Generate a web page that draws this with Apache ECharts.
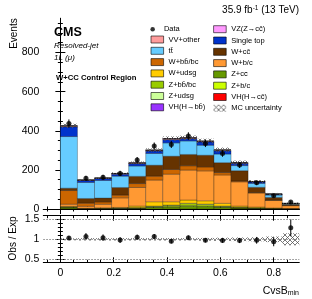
<!DOCTYPE html>
<html><head><meta charset="utf-8">
<script src="https://cdn.jsdelivr.net/npm/echarts@6/dist/echarts.min.js"></script>
<style>html,body{margin:0;padding:0;background:#fff}#c{width:312px;height:299px}</style>
</head><body><div id="c"></div>
<script>
// ---- data ----
const binEdges = [0,0.064,0.128,0.192,0.256,0.32,0.384,0.448,0.512,0.576,0.64,0.704,0.768,0.832,0.896];
const zcc   = [5,1,2,2,4,8,10,14,12,8,5,3,2,1];
const zbb   = [4,1,1,1,1,2,3,4,4,2,1,1,0.5,0.2];
const zbc   = [1,0.5,0.5,1,1,3,5,8,6,3,2,1,0.5,0.5];
const zudsg = [0.5,0.3,0.5,1,1,2,2,3,3,2,1,1,0.3,0.3];
const wudsg = [3,1,2,3,8,22,17,17,17,14,6,4,2,1];
const wbc   = [11,10,18,49,95,111,141,153,153,145,124,72,39,14];
const wbb   = [70,16,12,14,20,20,24,22,20,12,4,2,1,1];
const wcc   = [12,24,20,39,37,56,68,58,60,51,53,27,14,6];
const ttbar = [264,82,90,58,53,60,68,69,51,44,26,20,12,3];
const stop  = [50,10,10,10,12,13,17,12,17,17,12,7,4,1];
const vvother = [4,2,2,3,3,3,4,3,3,3,2,2,1,0.5];
const vzcc  = [0.5,0.3,0.3,0.5,0.5,0.6,0.7,0.7,0.6,0.5,0.4,0.3,0.2,0.1];
const vhbb  = [0.3,0.2,0.2,0.3,0.3,0.4,0.4,0.4,0.4,0.3,0.3,0.2,0.1,0.1];
const vhcc  = [0.1,0.1,0.1,0.1,0.2,0.2,0.2,0.2,0.2,0.2,0.1,0.1,0.1,0.05];
const dataObs = [437,157,162,182,250,322,330,373,335,284,225,134,68,36];
const ratioObs = [1.03,1.07,1.04,0.98,1.05,1.07,0.95,1.04,0.975,0.97,0.97,0.975,0.94,1.29];
const mcRelUnc = [0.025,0.03,0.03,0.03,0.03,0.03,0.03,0.03,0.035,0.04,0.045,0.05,0.07,0.15];
const xMajor = [0,0.2,0.4,0.6,0.8];
const xMinor = [-0.05,0.05,0.1,0.15,0.25,0.3,0.35,0.45,0.5,0.55,0.65,0.7,0.75,0.85];
const yMajor = [0,200,400,600,800];
const yMinor = [50,100,150,250,300,350,450,500,550,650,700,750,850,900,950];
const rMajor = [0.5,1,1.5];
const rMinor = [0.6,0.7,0.8,0.9,1.1,1.2,1.3,1.4];

const components = [
  {name:'Z+cc\u0304', vals:zcc, color:'#669900'},
  {name:'Z+bb\u0304/bc', vals:zbb, color:'#99cc00'},
  {name:'Z+b/c', vals:zbc, color:'#ccff00'},
  {name:'Z+udsg', vals:zudsg, color:'#ccff99'},
  {name:'W+udsg', vals:wudsg, color:'#ffcc00'},
  {name:'W+b/c', vals:wbc, color:'#ff9933'},
  {name:'W+bb\u0304/bc', vals:wbb, color:'#cc6600'},
  {name:'W+cc\u0304', vals:wcc, color:'#663300'},
  {name:'tt\u0304', vals:ttbar, color:'#66ccff'},
  {name:'Single top', vals:stop, color:'#0033cc'},
  {name:'VV+other', vals:vvother, color:'#ff9c9c'},
  {name:'VZ(Z\u2192cc\u0304)', vals:vzcc, color:'#ff99ff'},
  {name:'VH(H\u2192bb\u0304)', vals:vhbb, color:'#9933ff'},
  {name:'VH(H\u2192cc\u0304)', vals:vhcc, color:'#ff0000'}
];

function hatchCanvas(){
  const c=document.createElement('canvas'); c.width=5; c.height=5;
  const g=c.getContext('2d'); g.strokeStyle='#555'; g.lineWidth=0.8;
  g.beginPath(); g.moveTo(0,0); g.lineTo(5,5); g.moveTo(5,0); g.lineTo(0,5); g.stroke();
  return c;
}
const hatch = {image: hatchCanvas(), repeat:'repeat'};

const nb = binEdges.length-1;
const base = new Array(nb).fill(0);
const series = [];
function rectRender(stroke){
  return function(params, api){
    const lo=api.value(0), hi=api.value(1), b=api.value(2), t=api.value(3);
    const p0=api.coord([lo,t]), p1=api.coord([hi,b]);
    return {type:'rect', shape:{x:p0[0], y:p0[1], width:p1[0]-p0[0], height:p1[1]-p0[1]},
      style:{fill:api.visual('color'), stroke: stroke, lineWidth: stroke?0.5:0}};
  };
}
components.forEach(c=>{
  const d=[];
  for(let i=0;i<nb;i++){ d.push([binEdges[i],binEdges[i+1],base[i],base[i]+c.vals[i]]); base[i]+=c.vals[i]; }
  series.push({type:'custom', name:c.name, xAxisIndex:0, yAxisIndex:0, itemStyle:{color:c.color},
    renderItem: rectRender('rgba(0,0,0,0.55)'), encode:{x:[0,1], y:[2,3]}, data:d, z:2});
});
const total = base.slice();
const centers = []; for(let i=0;i<nb;i++) centers.push((binEdges[i]+binEdges[i+1])/2);

series.push({type:'custom', name:'MC uncertainty', xAxisIndex:0, yAxisIndex:0, itemStyle:{color:hatch},
  renderItem: rectRender(null), encode:{x:[0,1],y:[2,3]}, z:3,
  data: total.map((t,i)=>[binEdges[i],binEdges[i+1],t*(1-mcRelUnc[i]),t*(1+mcRelUnc[i])])});

function errRender(params, api){
  const x=api.value(0), lo=api.value(1), hi=api.value(2);
  const a=api.coord([x,lo]), b=api.coord([x,hi]);
  return {type:'line', shape:{x1:a[0],y1:a[1],x2:b[0],y2:b[1]}, style:{stroke:'#000', lineWidth:1}};
}
series.push({type:'custom', name:'dataErr', xAxisIndex:0, yAxisIndex:0, renderItem:errRender, z:4,
  encode:{x:0,y:[1,2]}, data: dataObs.map((v,i)=>[centers[i], v-Math.sqrt(v), v+Math.sqrt(v)])});
series.push({type:'scatter', name:'Data', xAxisIndex:0, yAxisIndex:0, symbol:'circle', symbolSize:5,
  itemStyle:{color:'#000'}, z:5, data: dataObs.map((v,i)=>[centers[i], v])});

// ratio panel
series.push({type:'custom', name:'ratioUnc', xAxisIndex:4, yAxisIndex:4, itemStyle:{color:hatch},
  renderItem: rectRender(null), encode:{x:[0,1],y:[2,3]}, z:3,
  data: mcRelUnc.map((u,i)=>[binEdges[i],binEdges[i+1],1-u,1+u]),
  markLine:{silent:true, symbol:'none', label:{show:false},
    lineStyle:{color:'#888', type:[1.5,1.5], width:1}, data:[{yAxis:0.5},{yAxis:1},{yAxis:1.5}]}});
series.push({type:'custom', name:'ratioErr', xAxisIndex:4, yAxisIndex:4, renderItem:errRender, z:4,
  encode:{x:0,y:[1,2]}, data: ratioObs.map((r,i)=>{const e=r/Math.sqrt(dataObs[i]); return [centers[i], r-e, r+e];})});
series.push({type:'scatter', name:'ratio', xAxisIndex:4, yAxisIndex:4, symbol:'circle', symbolSize:5,
  itemStyle:{color:'#000'}, z:5, data: ratioObs.map((r,i)=>[centers[i], r])});

const FONT = 'Liberation Sans';
const axLine = {show:true, lineStyle:{color:'#000', width:1}};
function xAx(grid, pos, ticks, len, line, labels){
  return {type:'value', gridIndex:grid, position:pos, min:-0.064, max:0.896,
    axisLine: line?axLine:{show:false}, splitLine:{show:false},
    axisTick:{show:true, inside:true, length:len, customValues:ticks, lineStyle:{color:'#000',width:1}},
    axisLabel: labels?{show:true, customValues:ticks, fontFamily:FONT, fontSize:10.5, color:'#000', margin:5}:{show:false}};
}
function yAx(grid, pos, mn, mx, ticks, len, line, labels){
  return {type:'value', gridIndex:grid, position:pos, min:mn, max:mx,
    axisLine: line?axLine:{show:false}, splitLine:{show:false},
    axisTick:{show:true, inside:true, length:len, customValues:ticks, lineStyle:{color:'#000',width:1}},
    axisLabel: labels?{show:true, customValues:ticks, fontFamily:FONT, fontSize:10.5, color:'#000', margin:4}:{show:false}};
}

const legendBase = {orient:'vertical', padding:0, itemWidth:12.6, itemHeight:7, itemGap:3.3,
  textStyle:{fontFamily:FONT, fontSize:7.5, color:'#000', lineHeight:7}, selectedMode:false,
  itemStyle:{borderColor:'#000', borderWidth:0.6}};
const col1 = ['VV+other','tt\u0304','W+bb\u0304/bc','W+udsg','Z+bb\u0304/bc','Z+udsg','VH(H\u2192bb\u0304)'];
const col2 = ['VZ(Z\u2192cc\u0304)','Single top','W+cc\u0304','W+b/c','Z+cc\u0304','Z+b/c','VH(H\u2192cc\u0304)'];

const option = {
  animation:false,
  grid:[{left:43.3, top:18.3, right:12.7, height:190.7},
        {left:43.3, top:215.7, right:12.7, height:46.6}],
  xAxis:[xAx(0,'bottom',xMajor,5,true,false), xAx(0,'bottom',xMinor,2.5,false,false),
         xAx(0,'top',xMajor,5,true,false), xAx(0,'top',xMinor,2.5,false,false),
         xAx(1,'bottom',xMajor,5,true,true), xAx(1,'bottom',xMinor,2.5,false,false),
         xAx(1,'top',xMajor,5,true,false), xAx(1,'top',xMinor,2.5,false,false)],
  yAxis:[yAx(0,'left',0,975,yMajor,5,true,true), yAx(0,'left',0,975,yMinor,2.5,false,false),
         yAx(0,'right',0,975,yMajor,5,true,false), yAx(0,'right',0,975,yMinor,2.5,false,false),
         yAx(1,'left',0.425,1.59,rMajor,5,true,true), yAx(1,'left',0.425,1.59,rMinor,2.5,false,false),
         yAx(1,'right',0.425,1.59,rMajor,5,true,false), yAx(1,'right',0.425,1.59,rMinor,2.5,false,false)],
  legend:[
    Object.assign({}, legendBase, {left:150.4, top:25.2, itemHeight:4.5,
      data:[{name:'Data', icon:'circle', itemStyle:{color:'#000', borderWidth:0}}]}),
    Object.assign({}, legendBase, {left:150.7, top:35.5,
      data: col1.map(n=>({name:n, icon:'rect'}))}),
    Object.assign({}, legendBase, {left:213.3, top:25.2,
      data: col2.map(n=>({name:n, icon:'rect'})).concat([{name:'MC uncertainty', icon:'rect', itemStyle:{borderWidth:0}}])})
  ],
  graphic:[
    {type:'text', x:14, y:18.3, rotation:Math.PI/2, style:{text:'Events', fontFamily:FONT, fontSize:10, fill:'#000', align:'right', verticalAlign:'middle'}},
    {type:'text', x:13, y:238.5, rotation:Math.PI/2, style:{text:'Obs / Exp', fontFamily:FONT, fontSize:10, fill:'#000', align:'center', verticalAlign:'middle'}},
    {type:'text', x:299, y:10, style:{text:'{a|35.9 fb}{s|-1}{a| (13 TeV)}', align:'right', verticalAlign:'middle',
      rich:{a:{fontFamily:FONT, fontSize:10, fill:'#000'}, s:{fontFamily:FONT, fontSize:6.5, fill:'#000', verticalAlign:'top'}}}},
    {type:'text', x:299, y:291, style:{text:'{a|CvsB}{s|min}', align:'right', verticalAlign:'middle',
      rich:{a:{fontFamily:FONT, fontSize:10.5, fill:'#000'}, s:{fontFamily:FONT, fontSize:7, fill:'#000', verticalAlign:'bottom'}}}},
    {type:'text', x:54, y:32.5, style:{text:'CMS', fontFamily:FONT, fontWeight:'bold', fontSize:12.5, fill:'#000', verticalAlign:'middle'}},
    {type:'text', x:54, y:46, style:{text:'Resolved-jet', fontFamily:FONT, fontStyle:'italic', fontSize:8, fill:'#000', verticalAlign:'middle'}},
    {type:'text', x:54, y:58, style:{text:'1L (\u03bc)', fontFamily:FONT, fontStyle:'italic', fontSize:8, fill:'#000', verticalAlign:'middle'}},
    {type:'text', x:56, y:78, style:{text:'W+CC Control Region', fontFamily:FONT, fontWeight:'bold', fontSize:7.7, fill:'#000', verticalAlign:'middle'}}
  ],
  series: series
};
const chart = echarts.init(document.getElementById('c'), null, {renderer:'canvas'});
chart.setOption(option);
</script>
</body></html>
